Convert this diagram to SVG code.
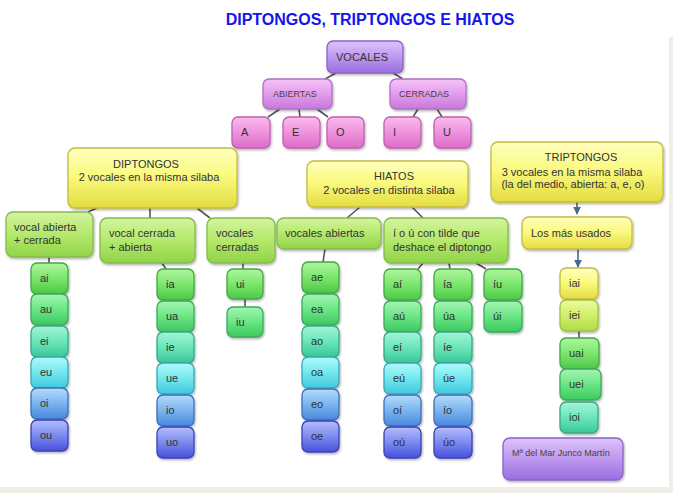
<svg xmlns="http://www.w3.org/2000/svg" width="673" height="493" viewBox="0 0 673 493">
<defs>
<filter id="sh" x="-20%" y="-20%" width="140%" height="150%"><feDropShadow dx="1" dy="1.5" stdDeviation="1" flood-color="#000" flood-opacity="0.3"/></filter>
<linearGradient id="gPur" x1="0" y1="0" x2="0" y2="1"><stop offset="0" stop-color="#dcc4fa"/><stop offset="0.45" stop-color="#c09cf0"/><stop offset="1" stop-color="#9a6ee0"/></linearGradient>
<linearGradient id="gMag" x1="0" y1="0" x2="0" y2="1"><stop offset="0" stop-color="#f4c4f6"/><stop offset="0.45" stop-color="#e4a0ec"/><stop offset="1" stop-color="#c878dc"/></linearGradient>
<linearGradient id="gPink" x1="0" y1="0" x2="0" y2="1"><stop offset="0" stop-color="#f8bcec"/><stop offset="0.45" stop-color="#f096de"/><stop offset="1" stop-color="#dc6cc8"/></linearGradient>
<linearGradient id="gYel" x1="0" y1="0" x2="0" y2="1"><stop offset="0" stop-color="#ffffc0"/><stop offset="0.45" stop-color="#fafa80"/><stop offset="1" stop-color="#e4dc40"/></linearGradient>
<linearGradient id="gLime" x1="0" y1="0" x2="0" y2="1"><stop offset="0" stop-color="#d4f4a0"/><stop offset="0.45" stop-color="#b8ea70"/><stop offset="1" stop-color="#90d448"/></linearGradient>
<linearGradient id="gYG" x1="0" y1="0" x2="0" y2="1"><stop offset="0" stop-color="#eefaa0"/><stop offset="0.45" stop-color="#d4f070"/><stop offset="1" stop-color="#b0dc48"/></linearGradient>
<linearGradient id="gG1" x1="0" y1="0" x2="0" y2="1"><stop offset="0" stop-color="#aef4a0"/><stop offset="0.45" stop-color="#80e870"/><stop offset="1" stop-color="#4cc848"/></linearGradient>
<linearGradient id="gG2" x1="0" y1="0" x2="0" y2="1"><stop offset="0" stop-color="#a4f4b4"/><stop offset="0.45" stop-color="#70e888"/><stop offset="1" stop-color="#3cc860"/></linearGradient>
<linearGradient id="gG3" x1="0" y1="0" x2="0" y2="1"><stop offset="0" stop-color="#a4f4d8"/><stop offset="0.45" stop-color="#70e8bc"/><stop offset="1" stop-color="#38c898"/></linearGradient>
<linearGradient id="gG4" x1="0" y1="0" x2="0" y2="1"><stop offset="0" stop-color="#b0f8f8"/><stop offset="0.45" stop-color="#78eaf0"/><stop offset="1" stop-color="#40c8dc"/></linearGradient>
<linearGradient id="gG5" x1="0" y1="0" x2="0" y2="1"><stop offset="0" stop-color="#b4dcfa"/><stop offset="0.45" stop-color="#80b8f0"/><stop offset="1" stop-color="#4888dc"/></linearGradient>
<linearGradient id="gG6" x1="0" y1="0" x2="0" y2="1"><stop offset="0" stop-color="#b4bcfa"/><stop offset="0.45" stop-color="#8090f0"/><stop offset="1" stop-color="#4850dc"/></linearGradient>
<marker id="arr" viewBox="0 0 10 10" refX="9" refY="5" markerWidth="8" markerHeight="8" markerUnits="userSpaceOnUse" orient="auto"><path d="M0,0 L10,5 L0,10 z" fill="#4a6a84"/></marker>
</defs>
<style>
rect.n{stroke-width:1.3;filter:url(#sh)}
.pur{fill:url(#gPur);stroke:#8c64c4}
.mag{fill:url(#gMag);stroke:#b070c4}
.pink{fill:url(#gPink);stroke:#c060b0}
.yel{fill:url(#gYel);stroke:#c4bc3c}
.lime{fill:url(#gLime);stroke:#84bc48}
.yg{fill:url(#gYG);stroke:#a0c040}
.g1{fill:url(#gG1);stroke:#44a844}
.g2{fill:url(#gG2);stroke:#3caa5c}
.g3{fill:url(#gG3);stroke:#38a888}
.g4{fill:url(#gG4);stroke:#38a8b8}
.g5{fill:url(#gG5);stroke:#3c70b8}
.g6{fill:url(#gG6);stroke:#3c40b4}
text{font-family:"Liberation Sans",Arial,sans-serif;font-size:11px;fill:#333}
.sm{font-size:9px;fill:#444}
.c{text-anchor:middle}
.title{font-size:16px;font-weight:bold;fill:#1414ee}
#connectors line{stroke:#555;stroke-width:1.6}
#connectors line.ar{stroke:#4a6a84;stroke-width:1.6}
</style>
<rect x="0" y="0" width="673" height="493" fill="#ffffff"/>
<rect x="669" y="37" width="4" height="456" fill="#f1ede7"/>
<rect x="0" y="487" width="673" height="6" fill="#f1ede7"/>
<text class="title c" x="370" y="25">DIPTONGOS, TRIPTONGOS E HIATOS</text>
<g id="connectors">
<line x1="336" y1="73" x2="325" y2="79"/>
<line x1="393" y1="73" x2="403" y2="79"/>
<line x1="280" y1="109" x2="268" y2="117"/>
<line x1="299" y1="109" x2="300" y2="117"/>
<line x1="317" y1="109" x2="328" y2="117"/>
<line x1="418" y1="109" x2="413" y2="117"/>
<line x1="437" y1="109" x2="442" y2="117"/>
<line x1="97" y1="208" x2="88" y2="212"/>
<line x1="150" y1="208" x2="150" y2="218"/>
<line x1="197" y1="208" x2="210" y2="218"/>
<line x1="360" y1="207" x2="347" y2="218"/>
<line x1="412" y1="207" x2="423" y2="218"/>
<line x1="49" y1="257" x2="49" y2="263"/>
<line x1="162" y1="263" x2="166" y2="269"/>
<line x1="243" y1="263" x2="243" y2="269"/>
<line x1="245" y1="299" x2="245" y2="307"/>
<line x1="325" y1="249" x2="323" y2="262"/>
<line x1="423" y1="263" x2="418" y2="269"/>
<line x1="449" y1="263" x2="450" y2="269"/>
<line x1="476" y1="263" x2="486" y2="269"/>
<line x1="579" y1="331" x2="579" y2="338"/>
<line class="ar" x1="577" y1="202" x2="577" y2="214" marker-end="url(#arr)"/>
<line class="ar" x1="578" y1="249" x2="578" y2="267" marker-end="url(#arr)"/>
</g>
<g id="vocales"><rect class="n pur" x="327" y="41" width="76" height="32" rx="6"/><text x="336" y="61">VOCALES</text></g>
<g id="abiertas"><rect class="n mag" x="263" y="79" width="69" height="30" rx="6"/><text class="sm" x="273" y="97">ABIERTAS</text></g>
<g id="cerradas"><rect class="n mag" x="390" y="79" width="76" height="30" rx="6"/><text class="sm" x="399" y="97">CERRADAS</text></g>
<g id="v-a"><rect class="n pink" x="232" y="117" width="38" height="31" rx="6"/><text x="241" y="136">A</text></g>
<g id="v-e"><rect class="n pink" x="283" y="117" width="37" height="31" rx="6"/><text x="292" y="136">E</text></g>
<g id="v-o"><rect class="n pink" x="327" y="117" width="37" height="31" rx="6"/><text x="336" y="136">O</text></g>
<g id="v-i"><rect class="n pink" x="384" y="117" width="37" height="31" rx="6"/><text x="393" y="136">I</text></g>
<g id="v-u"><rect class="n pink" x="434" y="117" width="37" height="31" rx="6"/><text x="443" y="136">U</text></g>
<g id="diptongos"><rect class="n yel" x="68" y="148" width="169" height="60" rx="7"/><text class="c" x="146" y="168">DIPTONGOS</text><text class="c" x="149" y="181">2 vocales en la misma silaba</text></g>
<g id="hiatos"><rect class="n yel" x="307" y="161" width="161" height="46" rx="7"/><text class="c" x="394" y="180">HIATOS</text><text class="c" x="389" y="194">2 vocales en distinta silaba</text></g>
<g id="triptongos"><rect class="n yel" x="491" y="142" width="172" height="60" rx="7"/><text class="c" x="581" y="161">TRIPTONGOS</text><text class="c" x="572" y="176">3 vocales en la misma silaba</text><text class="c" x="573" y="188">(la del medio, abierta: a, e, o)</text></g>
<g id="dip-ab"><rect class="n lime" x="6" y="212" width="87" height="45" rx="7"/><text x="14" y="231">vocal abierta</text><text x="14" y="244">+ cerrada</text></g>
<g id="dip-ca"><rect class="n lime" x="100" y="218" width="95" height="45" rx="7"/><text x="109" y="237">vocal cerrada</text><text x="109" y="251">+ abierta</text></g>
<g id="dip-cc"><rect class="n lime" x="207" y="218" width="68" height="45" rx="7"/><text x="216" y="237">vocales</text><text x="216" y="251">cerradas</text></g>
<g id="hia-ab"><rect class="n lime" x="277" y="218" width="104" height="31" rx="7"/><text x="285" y="237">vocales abiertas</text></g>
<g id="hia-tilde"><rect class="n lime" x="384" y="218" width="124" height="45" rx="7"/><text x="393" y="237">í o ú con tilde que</text><text x="393" y="251">deshace el diptongo</text></g>
<g id="mas-usados"><rect class="n yel" x="522" y="217" width="110" height="32" rx="7"/><text x="531" y="237">Los más usados</text></g>
<g id="c1-ai"><rect class="n g1" x="31" y="263" width="37" height="31" rx="6"/><text x="40" y="282">ai</text></g>
<g id="c1-au"><rect class="n g2" x="31" y="294" width="37" height="31" rx="6"/><text x="40" y="313">au</text></g>
<g id="c1-ei"><rect class="n g3" x="31" y="326" width="37" height="31" rx="6"/><text x="40" y="345">ei</text></g>
<g id="c1-eu"><rect class="n g4" x="31" y="357" width="37" height="31" rx="6"/><text x="40" y="376">eu</text></g>
<g id="c1-oi"><rect class="n g5" x="31" y="388" width="37" height="31" rx="6"/><text x="40" y="407">oi</text></g>
<g id="c1-ou"><rect class="n g6" x="31" y="420" width="37" height="31" rx="6"/><text x="40" y="439">ou</text></g>
<g id="c2-ia"><rect class="n g1" x="157" y="269" width="37" height="31" rx="6"/><text x="166" y="288">ia</text></g>
<g id="c2-ua"><rect class="n g2" x="157" y="301" width="37" height="31" rx="6"/><text x="166" y="320">ua</text></g>
<g id="c2-ie"><rect class="n g3" x="157" y="332" width="37" height="31" rx="6"/><text x="166" y="351">ie</text></g>
<g id="c2-ue"><rect class="n g4" x="157" y="363" width="37" height="31" rx="6"/><text x="166" y="382">ue</text></g>
<g id="c2-io"><rect class="n g5" x="157" y="395" width="37" height="31" rx="6"/><text x="166" y="414">io</text></g>
<g id="c2-uo"><rect class="n g6" x="157" y="427" width="37" height="31" rx="6"/><text x="166" y="446">uo</text></g>
<g id="c3-ui"><rect class="n g1" x="227" y="269" width="36" height="30" rx="6"/><text x="236" y="288">ui</text></g>
<g id="c3-iu"><rect class="n g2" x="227" y="307" width="36" height="30" rx="6"/><text x="236" y="326">iu</text></g>
<g id="h1-ae"><rect class="n g1" x="302" y="262" width="37" height="31" rx="6"/><text x="311" y="281">ae</text></g>
<g id="h1-ea"><rect class="n g2" x="302" y="294" width="37" height="31" rx="6"/><text x="311" y="313">ea</text></g>
<g id="h1-ao"><rect class="n g3" x="302" y="326" width="37" height="31" rx="6"/><text x="311" y="345">ao</text></g>
<g id="h1-oa"><rect class="n g4" x="302" y="357" width="37" height="31" rx="6"/><text x="311" y="376">oa</text></g>
<g id="h1-eo"><rect class="n g5" x="302" y="389" width="37" height="31" rx="6"/><text x="311" y="408">eo</text></g>
<g id="h1-oe"><rect class="n g6" x="302" y="421" width="37" height="31" rx="6"/><text x="311" y="440">oe</text></g>
<g id="h2-ai"><rect class="n g1" x="384" y="269" width="37" height="31" rx="6"/><text x="393" y="288">aí</text></g>
<g id="h2-au"><rect class="n g2" x="384" y="301" width="37" height="31" rx="6"/><text x="393" y="320">aú</text></g>
<g id="h2-ei"><rect class="n g3" x="384" y="332" width="37" height="31" rx="6"/><text x="393" y="351">eí</text></g>
<g id="h2-eu"><rect class="n g4" x="384" y="363" width="37" height="31" rx="6"/><text x="393" y="382">eú</text></g>
<g id="h2-oi"><rect class="n g5" x="384" y="395" width="37" height="31" rx="6"/><text x="393" y="414">oí</text></g>
<g id="h2-ou"><rect class="n g6" x="384" y="427" width="37" height="31" rx="6"/><text x="393" y="446">oú</text></g>
<g id="h3-ia"><rect class="n g1" x="434" y="269" width="38" height="31" rx="6"/><text x="443" y="288">ía</text></g>
<g id="h3-ua"><rect class="n g2" x="434" y="301" width="38" height="31" rx="6"/><text x="443" y="320">úa</text></g>
<g id="h3-ie"><rect class="n g3" x="434" y="332" width="38" height="31" rx="6"/><text x="443" y="351">íe</text></g>
<g id="h3-ue"><rect class="n g4" x="434" y="363" width="38" height="31" rx="6"/><text x="443" y="382">úe</text></g>
<g id="h3-io"><rect class="n g5" x="434" y="395" width="38" height="31" rx="6"/><text x="443" y="414">ío</text></g>
<g id="h3-uo"><rect class="n g6" x="434" y="427" width="38" height="31" rx="6"/><text x="443" y="446">úo</text></g>
<g id="h4-iu"><rect class="n g1" x="484" y="269" width="38" height="31" rx="6"/><text x="493" y="288">íu</text></g>
<g id="h4-ui"><rect class="n g2" x="484" y="301" width="38" height="31" rx="6"/><text x="493" y="320">úi</text></g>
<g id="t-iai"><rect class="n yel" x="560" y="268" width="38" height="31" rx="6"/><text x="569" y="287">iai</text></g>
<g id="t-iei"><rect class="n yg" x="560" y="300" width="38" height="31" rx="6"/><text x="569" y="319">iei</text></g>
<g id="t-uai"><rect class="n g1" x="560" y="338" width="39" height="31" rx="6"/><text x="569" y="357">uai</text></g>
<g id="t-uei"><rect class="n g2" x="560" y="369" width="41" height="31" rx="6"/><text x="569" y="388">uei</text></g>
<g id="t-ioi"><rect class="n g3" x="560" y="402" width="38" height="31" rx="6"/><text x="569" y="421">ioi</text></g>
<g id="autor"><rect class="n pur" x="503" y="438" width="120" height="42" rx="7"/><text class="sm" x="512" y="456">Mª del Mar Junco Martín</text></g>
</svg>
